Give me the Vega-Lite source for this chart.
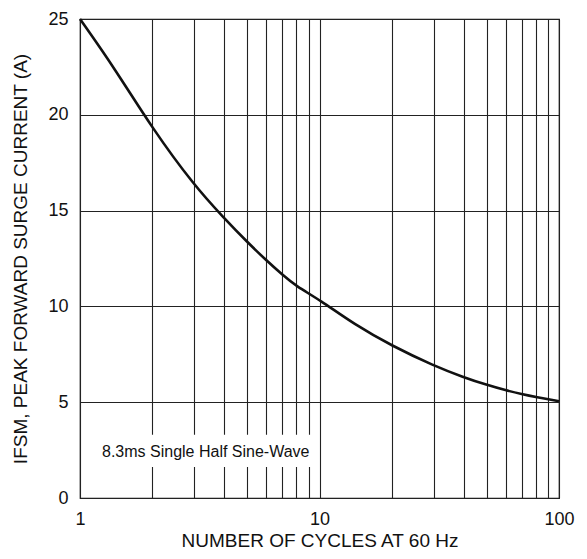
{
  "$schema": "https://vega.github.io/schema/vega-lite/v6.json",
  "width": 479,
  "height": 479,
  "autosize": {"type": "none"},
  "padding": {"left": 80, "top": 19, "right": 28, "bottom": 61},
  "background": "white",
  "config": {
    "font": "Liberation Sans",
    "view": {"stroke": "#111", "strokeWidth": 1.2},
    "axis": {"labelFont": "Liberation Sans", "titleFont": "Liberation Sans", "labelColor": "#111", "titleColor": "#111", "titleFontWeight": "normal", "gridColor": "#222", "gridOpacity": 1, "gridWidth": 1.1, "ticks": false, "domain": false}
  },
  "datasets": {
    "curve": [
      {"cycles": 1, "current": 25.0},
      {"cycles": 1.4, "current": 22.4},
      {"cycles": 2, "current": 19.3},
      {"cycles": 3, "current": 16.3},
      {"cycles": 4, "current": 14.6},
      {"cycles": 5, "current": 13.35},
      {"cycles": 6, "current": 12.4},
      {"cycles": 7, "current": 11.65},
      {"cycles": 8, "current": 11.05},
      {"cycles": 10, "current": 10.35},
      {"cycles": 14, "current": 9.05},
      {"cycles": 20, "current": 7.95},
      {"cycles": 30, "current": 6.9},
      {"cycles": 40, "current": 6.3},
      {"cycles": 50, "current": 5.9},
      {"cycles": 60, "current": 5.62},
      {"cycles": 70, "current": 5.42},
      {"cycles": 80, "current": 5.27},
      {"cycles": 100, "current": 5.05}
    ],
    "box": [
      {"x1": 1.18, "x2": 9.6, "y1": 1.62, "y2": 3.3, "cx": 3.35, "cy": 2.4, "label": "8.3ms Single Half Sine-Wave"}
    ]
  },
  "layer": [
    {
      "data": {"name": "box"},
      "mark": {"type": "rect", "fill": "white", "stroke": null},
      "encoding": {
        "x": {"field": "x1", "type": "quantitative",
          "scale": {"type": "log", "domain": [1, 100], "nice": false},
          "axis": {
            "values": [1, 2, 3, 4, 5, 6, 7, 8, 9, 10, 20, 30, 40, 50, 60, 70, 80, 90, 100],
            "labelExpr": "(datum.value == 1 || datum.value == 10 || datum.value == 100) ? datum.label : ''",
            "labelFontSize": 18, "labelPadding": 12, "labelFlush": false, "labelOverlap": false,
            "title": "NUMBER OF CYCLES AT 60 Hz", "titleFontSize": 19, "titlePadding": 3
          }
        },
        "x2": {"field": "x2"},
        "y": {"field": "y1", "type": "quantitative",
          "scale": {"domain": [0, 25], "nice": false},
          "axis": {
            "values": [0, 5, 10, 15, 20, 25],
            "labelFontSize": 18, "labelPadding": 12,
            "title": "IFSM, PEAK FORWARD SURGE CURRENT (A)", "titleFontSize": 19, "titlePadding": 17
          }
        },
        "y2": {"field": "y2"}
      }
    },
    {
      "data": {"name": "box"},
      "mark": {"type": "text", "font": "Liberation Sans", "fontSize": 16, "color": "#111", "align": "center", "baseline": "middle"},
      "encoding": {
        "x": {"field": "cx", "type": "quantitative"},
        "y": {"field": "cy", "type": "quantitative"},
        "text": {"field": "label"}
      }
    },
    {
      "data": {"name": "curve"},
      "mark": {"type": "line", "color": "#111", "strokeWidth": 2.6, "interpolate": "basis"},
      "encoding": {
        "x": {"field": "cycles", "type": "quantitative"},
        "y": {"field": "current", "type": "quantitative"}
      }
    }
  ]
}
